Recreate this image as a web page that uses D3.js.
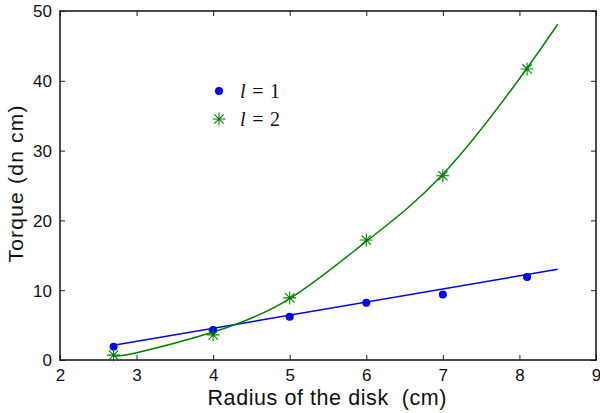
<!DOCTYPE html>
<html>
<head>
<meta charset="utf-8">
<script src="https://cdn.jsdelivr.net/npm/d3@7"></script>
<style>
  body { margin: 0; background: #fff; }
  svg text { font-family: "Liberation Sans", Arial, sans-serif; fill: #111; }
</style>
</head>
<body>
<div id="chart"></div>
<script>
// measured radii and torques
var radius = [2.7, 4, 5, 6, 7, 8.1];
var torqueL1 = [1.9, 4.3, 6.2, 8.2, 9.4, 11.9];
var torqueL2 = [0.7, 3.6, 8.9, 17.2, 26.4, 41.7];

// fitted curves
var fitL1X = [2.7, 8.5];
var fitL1Y = [2.1, 13.0];
var fitL2X = [2.7, 3, 4, 5, 6, 7, 8, 8.5];
var fitL2Y = [0.6, 1.05, 4.0, 8.8, 17.0, 26.6, 40.3, 48.1];

var xTicks = [2, 3, 4, 5, 6, 7, 8, 9];
var yTicks = [0, 10, 20, 30, 40, 50];

var margin = {top: 11, right: 4, bottom: 53, left: 60},
    width = 600 - margin.left - margin.right,
    height = 413 - margin.top - margin.bottom;

var svg = d3.select("#chart")
  .append("svg")
  .attr("width", 600)
  .attr("height", 413)
  .append("g")
  .attr("transform", "translate(" + margin.left + "," + margin.top + ")");

var x = d3.scaleLinear().domain([2, 9]).range([0, width]);
var y = d3.scaleLinear().domain([0, 50]).range([height, 0]);

// axes, ticks pointing inward on all four sides
var bottom = svg.append("g")
  .attr("transform", "translate(0," + height + ")")
  .call(d3.axisBottom(x).tickValues(xTicks).tickSize(-5).tickPadding(9).tickFormat(d3.format("d")));
var top_ = svg.append("g")
  .call(d3.axisTop(x).tickValues(xTicks).tickSize(-5).tickFormat(""));
var left = svg.append("g")
  .call(d3.axisLeft(y).tickValues(yTicks).tickSize(-5).tickPadding(8).tickFormat(d3.format("d")));
var right = svg.append("g")
  .attr("transform", "translate(" + width + ",0)")
  .call(d3.axisRight(y).tickValues(yTicks).tickSize(-5).tickFormat(""));

[bottom, top_, left, right].forEach(function(g) {
  g.select(".domain").remove();
  g.selectAll("line").attr("stroke", "#222").attr("stroke-width", 1);
  g.selectAll("text").style("font-size", "17px").attr("fill", "#111");
});
bottom.selectAll("text").attr("dy", "0.71em");
left.selectAll("text").attr("dy", "0.35em");

svg.append("rect")
  .attr("x", 0).attr("y", 0)
  .attr("width", width).attr("height", height)
  .attr("fill", "none")
  .attr("stroke", "#111")
  .attr("stroke-width", 1.5);

// axis labels
svg.append("text")
  .attr("x", 327 - margin.left)
  .attr("y", height + 45)
  .attr("text-anchor", "middle")
  .style("font-size", "21.5px")
  .style("white-space", "pre")
  .attr("textLength", 239)
  .text("Radius of the disk  (cm)");

svg.append("text")
  .attr("transform", "rotate(-90)")
  .attr("x", -(184 - margin.top))
  .attr("y", -37)
  .attr("text-anchor", "middle")
  .style("font-size", "21px")
  .attr("textLength", 157)
  .text("Torque (dn cm)");

var line = d3.line()
  .x(function(d) { return x(d[0]); })
  .y(function(d) { return y(d[1]); });

svg.append("path")
  .datum(fitL1X.map(function(v, i) { return [v, fitL1Y[i]]; }))
  .attr("d", line)
  .attr("fill", "none")
  .attr("stroke", "#0000ff")
  .attr("stroke-width", 1.5);

svg.append("path")
  .datum(fitL2X.map(function(v, i) { return [v, fitL2Y[i]]; }))
  .attr("d", line.curve(d3.curveNatural))
  .attr("fill", "none")
  .attr("stroke", "#008000")
  .attr("stroke-width", 1.5);

// markers
svg.append("g")
  .selectAll("circle")
  .data(radius)
  .enter()
  .append("circle")
  .attr("cx", function(d) { return x(d); })
  .attr("cy", function(d, i) { return y(torqueL1[i]); })
  .attr("r", 4)
  .attr("fill", "#0000ff");

function star(g, cx, cy, s) {
  var d = s * 0.72;
  var path = "M" + (cx - s) + "," + cy + "H" + (cx + s) +
             "M" + cx + "," + (cy - s) + "V" + (cy + s) +
             "M" + (cx - d) + "," + (cy - d) + "L" + (cx + d) + "," + (cy + d) +
             "M" + (cx - d) + "," + (cy + d) + "L" + (cx + d) + "," + (cy - d);
  g.append("path")
    .attr("d", path)
    .attr("stroke", "#008000")
    .attr("stroke-width", 1.1)
    .attr("fill", "none");
}

var stars = svg.append("g");
radius.forEach(function(r, i) {
  star(stars, x(r), y(torqueL2[i]), 6.5);
});

// legend
var legend = svg.append("g").attr("transform", "translate(159,80)");
legend.append("circle").attr("cx", 0).attr("cy", 0).attr("r", 4).attr("fill", "#0000ff");
star(legend, 0, 28, 6.5);

var labels = ["1", "2"];
labels.forEach(function(lab, i) {
  var t = legend.append("text")
    .attr("x", 21)
    .attr("y", i * 28 + 7)
    .attr("textLength", 40)
    .style("font-family", "'Liberation Serif', 'Times New Roman', serif")
    .style("font-size", "20px");
  t.append("tspan").style("font-style", "italic").text("l");
  t.append("tspan").text(" = " + lab);
});
</script>
</body>
</html>
